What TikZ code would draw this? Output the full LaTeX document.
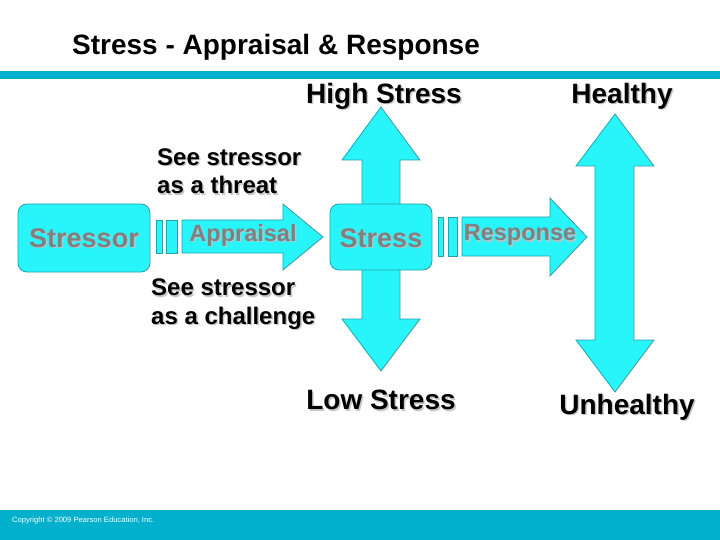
\documentclass[tikz,border=0pt]{standalone}
\usepackage{fontspec}
\setmainfont{Liberation Sans}
\definecolor{band}{RGB}{0,176,204}
\definecolor{cyanfill}{RGB}{40,245,250}
\definecolor{cyanedge}{RGB}{40,160,170}
\definecolor{shadowgray}{RGB}{200,200,200}
\definecolor{labelgray}{RGB}{128,128,128}
\definecolor{labelshadow}{RGB}{175,200,205}
\newcommand{\shtxt}[5]{% name, position, style, shadow colour, text
  \node[#3, text=#4, xshift=1.5pt, yshift=-1.5pt] (#1s) at (#2) {#5};
  \node[#3] (#1) at (#2) {#5};}
\tikzset{
  cyanshape/.style={fill=cyanfill, draw=cyanedge, line width=0.8pt, line join=miter},
  big/.style={font=\bfseries\fontsize{28}{30}\selectfont, inner sep=0pt, text=black},
  mid/.style={font=\bfseries\fontsize{24}{28.5}\selectfont, inner sep=0pt, text=black, align=left, anchor=west},
  inbox/.style={font=\bfseries\fontsize{27}{30}\selectfont, inner sep=0pt, text=labelgray},
  inarrow/.style={font=\bfseries\fontsize{23.5}{26}\selectfont, inner sep=0pt, text=labelgray},
}
\begin{document}
\begin{tikzpicture}[x=1pt,y=1pt]
\useasboundingbox (0,0) rectangle (720,-540);
% bands
\fill[band] (0,-71) rectangle (720,-79);
\fill[band] (0,-510) rectangle (720,-540);
% title
\node[font=\bfseries\fontsize{28}{30}\selectfont, inner sep=0pt, anchor=west] (title) at (72,-47) {Stress - Appraisal \& Response};
% vertical double arrows
\draw[cyanshape] (381,-107) -- (420,-160) -- (400,-160) -- (400,-319) -- (420,-319) -- (381,-371)
  -- (342,-319) -- (362,-319) -- (362,-160) -- (342,-160) -- cycle;
\draw[cyanshape] (615,-114) -- (654,-166) -- (634,-166) -- (634,-340) -- (654,-340) -- (615,-392)
  -- (576,-340) -- (595,-340) -- (595,-166) -- (576,-166) -- cycle;
% stressor box and bars
\draw[cyanshape, rounded corners=9pt] (18,-204) rectangle (150,-272);
\draw[cyanshape] (156,-220) rectangle (162,-253);
\draw[cyanshape] (166,-220) rectangle (177,-253);
\draw[cyanshape] (182,-220) -- (283,-220) -- (283,-204) -- (323,-237) -- (283,-270) -- (283,-253) -- (182,-253) -- cycle;
% stress box and bars
\draw[cyanshape, rounded corners=9pt] (330,-204) rectangle (432,-270);
\draw[cyanshape] (438,-217) rectangle (443,-256);
\draw[cyanshape] (448,-217) rectangle (457,-256);
\draw[cyanshape] (462,-217) -- (550,-217) -- (550,-198) -- (587,-237) -- (550,-276) -- (550,-256) -- (462,-256) -- cycle;
% labels
\shtxt{high}{384,-96}{big}{shadowgray}{High Stress}
\shtxt{healthy}{622,-96}{big}{shadowgray}{Healthy}
\shtxt{low}{381,-400}{big}{shadowgray}{Low Stress}
\shtxt{unhealthy}{627,-407}{big}{shadowgray}{Unhealthy}
\shtxt{threat}{157,-171}{mid}{shadowgray}{See stressor\\as a threat}
\shtxt{challenge}{151,-304}{mid}{shadowgray}{See stressor\\as a challenge}
\shtxt{stressor}{84,-238}{inbox}{labelshadow}{Stressor}
\shtxt{stress}{381,-238}{inbox}{labelshadow}{Stress}
\shtxt{appraisal}{243,-235}{inarrow}{labelshadow}{Appraisal}
\shtxt{response}{520,-235}{inarrow}{labelshadow}{Response}
\node[font=\fontsize{7.6}{8}\selectfont, text=white, inner sep=0pt, anchor=west] (copy) at (12,-521) {Copyright \textcopyright{} 2009 Pearson Education, Inc.};
\end{tikzpicture}
\end{document}
